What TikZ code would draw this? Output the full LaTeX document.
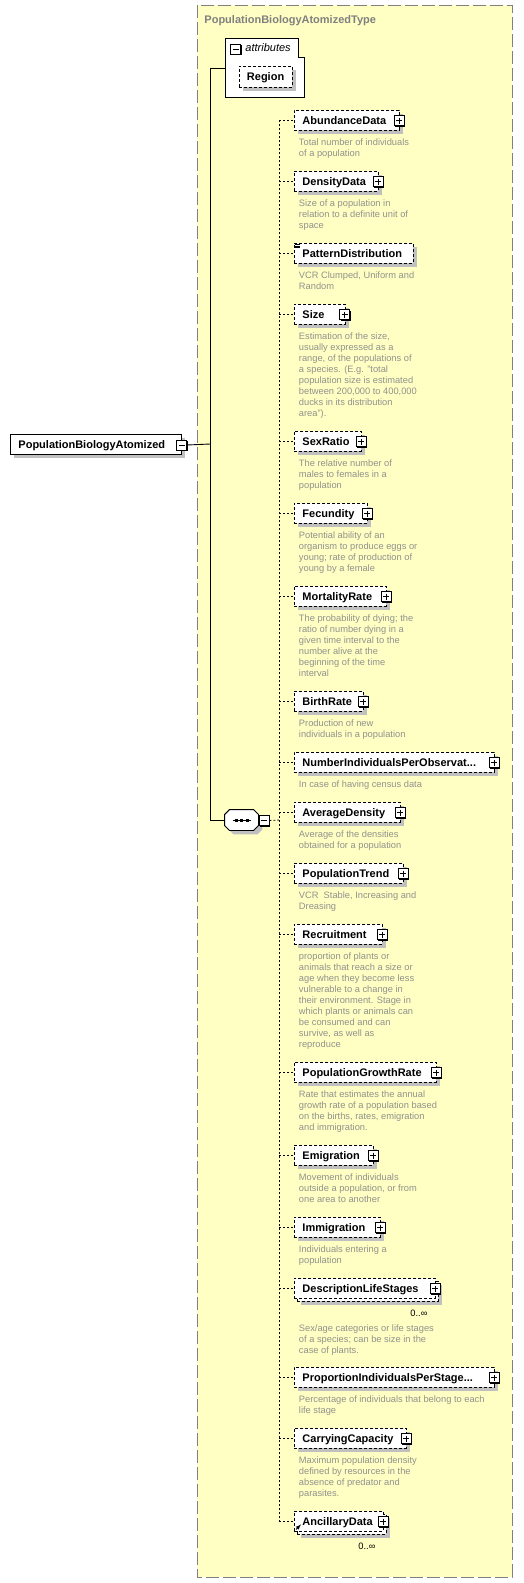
\documentclass[tikz,border=0pt]{standalone}
\usepackage{fontspec}
\setmainfont{Liberation Sans}
\usetikzlibrary{shadows}
\definecolor{typebg}{RGB}{255,255,196}
\definecolor{typeline}{RGB}{128,128,128}
\definecolor{doctext}{RGB}{145,145,140}
\definecolor{shadowgray}{RGB}{192,192,192}

\begin{document}
\begin{tikzpicture}[x=1pt, y=-1pt, line width=0.9pt,
  box/.style={draw, dash pattern=on 3pt off 2pt, fill=white, anchor=west, minimum height=20pt, inner xsep=8pt, inner ysep=0pt, text width=#1, align=left, text height=9pt, text depth=1pt, font=\fontsize{11}{13}\selectfont\bfseries},
  elem/.style={box=#1, drop shadow={shadow xshift=4pt, shadow yshift=-4pt, fill=shadowgray, opacity=1}},
  toggle/.style={draw, solid, fill=white, minimum size=10pt, inner sep=0pt, line width=0.8pt, drop shadow={shadow xshift=1.2pt, shadow yshift=-1.2pt, fill=black, opacity=1}},
  plusbox/.style={toggle, path picture={\draw[line width=0.8pt] ([xshift=2pt]path picture bounding box.west) -- ([xshift=-2pt]path picture bounding box.east) ([yshift=-2pt]path picture bounding box.north) -- ([yshift=2pt]path picture bounding box.south);}},
  minusbox/.style={toggle, path picture={\draw[line width=0.8pt] ([xshift=2pt]path picture bounding box.west) -- ([xshift=-2pt]path picture bounding box.east);}},
  doc/.style={anchor=north west, inner sep=0pt, align=left, text=doctext, font=\fontsize{9.3}{11}\selectfont},
  card/.style={anchor=base west, inner sep=0pt, font=\fontsize{9.3}{11}\selectfont},
  link/.style={dash pattern=on 2pt off 2pt}]
\useasboundingbox (0,0) rectangle (524,1583);

\draw[typeline, fill=typebg, dash pattern=on 13pt off 4pt] (197,5) rectangle (512,1577);
\node[anchor=base west, inner sep=0pt, text=typeline, font=\fontsize{11}{13}\selectfont\bfseries] (title) at (204,23) {PopulationBiologyAtomizedType};

% attributes
\node[minimum width=79pt, minimum height=59pt, inner sep=0pt, anchor=north west] (attr) at (225,38) {};
\draw[fill=white] (attr.north west) -- ++(73,0) -- ++(0,19) -- ++(6,0) |- (attr.south west) -- cycle;
\node[minusbox] (attrx) at (235.5,49) {};
\node[anchor=west, inner sep=0pt, font=\fontsize{11}{13}\selectfont\itshape] (attrlbl) at (245,48) {attributes};
\node[elem=38pt, inner xsep=7.5pt, minimum height=21pt] (region) at (239,76.5) {Region};

% element and sequence
\node[elem=155pt, solid] (pba) at (10,444) {PopulationBiologyAtomized};
\node[minusbox] (pbax) at (181.5,445) {};
\node[minimum width=33pt, minimum height=20pt, inner sep=0pt] (seq) at (241.5,820) {};
\fill[shadowgray, transform canvas={xshift=4pt, yshift=-4pt}] ([xshift=5pt]seq.north west) -- ([xshift=-5pt]seq.north east) -- ([yshift=-5pt]seq.north east) -- ([yshift=5pt]seq.south east) -- ([xshift=-5pt]seq.south east) -- ([xshift=5pt]seq.south west) -- ([yshift=5pt]seq.south west) -- ([yshift=-5pt]seq.north west) -- cycle;
\draw[fill=white] ([xshift=5pt]seq.north west) -- ([xshift=-5pt]seq.north east) -- ([yshift=-5pt]seq.north east) -- ([yshift=5pt]seq.south east) -- ([xshift=-5pt]seq.south east) -- ([xshift=5pt]seq.south west) -- ([yshift=5pt]seq.south west) -- ([yshift=-5pt]seq.north west) -- cycle;
\draw (seq.center) ++(-9,0) -- ++(18,0);
\fill ([shift={(-7,-1.5)}]seq.center) rectangle ++(3,3);
\fill ([shift={(-1.5,-1.5)}]seq.center) rectangle ++(3,3);
\fill ([shift={(4,-1.5)}]seq.center) rectangle ++(3,3);
\node[minusbox] (seqx) at (264,820.5) {};

\coordinate (trunk) at (210,444);
\coordinate (bus) at (279,820);
\draw (pbax.east) -- (trunk);
\draw (attr.west) -- (trunk |- attr.west) -- (trunk |- seq.west) -- (seq.west);

% children
\node[elem=89pt] (abund) at (294,120) {AbundanceData};
\node[plusbox] (abundx) at (399,120.5) {};
\node[doc] (abunddoc) at (298.5,137.5) {\rule{0pt}{8pt}Total number of individuals\\of a population};

\node[elem=68pt] (density) at (294,181) {DensityData};
\node[plusbox] (densityx) at (378,181.5) {};
\node[doc] (densitydoc) at (298.5,198.5) {\rule{0pt}{8pt}Size of a population in\\relation to a definite unit of\\space};

\node[elem=103pt] (pattern) at (294,253) {PatternDistribution};
\draw[line width=0.6pt] ([shift={(1,2)}]pattern.north west) -- ++(5,0) ++(-5,1.5) -- ++(5,0) ++(-5,1.5) -- ++(5,0);
\node[doc] (patterndoc) at (298.5,270.5) {\rule{0pt}{8pt}VCR Clumped, Uniform and\\Random};

\node[elem=35pt] (size) at (294,314) {Size};
\node[plusbox] (sizex) at (344.5,314.5) {};
\node[doc] (sizedoc) at (298.5,331.5) {\rule{0pt}{8pt}Estimation of the size,\\usually expressed as a\\range, of the populations of\\a species. (E.g. "total\\population size is estimated\\between 200,000 to 400,000\\ducks in its distribution\\area").};

\node[elem=51pt] (sexratio) at (294,441) {SexRatio};
\node[plusbox] (sexratiox) at (361,441.5) {};
\node[doc] (sexratiodoc) at (298.5,458.5) {\rule{0pt}{8pt}The relative number of\\males to females in a\\population};

\node[elem=57pt] (fecund) at (294,513) {Fecundity};
\node[plusbox] (fecundx) at (367,513.5) {};
\node[doc] (fecunddoc) at (298.5,530.5) {\rule{0pt}{8pt}Potential ability of an\\organism to produce eggs or\\young; rate of production of\\young by a female};

\node[elem=76pt] (mortal) at (294,596) {MortalityRate};
\node[plusbox] (mortalx) at (386,596.5) {};
\node[doc] (mortaldoc) at (298.5,613.5) {\rule{0pt}{8pt}The probability of dying; the\\ratio of number dying in a\\given time interval to the\\number alive at the\\beginning of the time\\interval};

\node[elem=53pt] (birth) at (294,701) {BirthRate};
\node[plusbox] (birthx) at (363,701.5) {};
\node[doc] (birthdoc) at (298.5,718.5) {\rule{0pt}{8pt}Production of new\\individuals in a population};

\node[elem=184pt] (numind) at (294,762) {NumberIndividualsPerObservat...};
\node[plusbox] (numindx) at (494,762.5) {};
\node[doc] (numinddoc) at (298.5,779.5) {\rule{0pt}{8pt}In case of having census data};

\node[elem=90pt] (avgdens) at (294,812) {AverageDensity};
\node[plusbox] (avgdensx) at (400,812.5) {};
\node[doc] (avgdensdoc) at (298.5,829.5) {\rule{0pt}{8pt}Average of the densities\\obtained for a population};

\node[elem=93pt] (poptrend) at (294,873) {PopulationTrend};
\node[plusbox] (poptrendx) at (403,873.5) {};
\node[doc] (poptrenddoc) at (298.5,890.5) {\rule{0pt}{8pt}VCR\ \ Stable, Increasing and\\Dreasing};

\node[elem=72pt] (recruit) at (294,934) {Recruitment};
\node[plusbox] (recruitx) at (382,934.5) {};
\node[doc] (recruitdoc) at (298.5,951.5) {\rule{0pt}{8pt}proportion of plants or\\animals that reach a size or\\age when they become less\\vulnerable to a change in\\their environment. Stage in\\which plants or animals can\\be consumed and can\\survive, as well as\\reproduce};

\node[elem=126pt] (popgrowth) at (294,1072) {PopulationGrowthRate};
\node[plusbox] (popgrowthx) at (436,1072.5) {};
\node[doc] (popgrowthdoc) at (298.5,1089.5) {\rule{0pt}{8pt}Rate that estimates the annual\\growth rate of a population based\\on the births, rates, emigration\\and immigration.};

\node[elem=63pt] (emig) at (294,1155) {Emigration};
\node[plusbox] (emigx) at (373,1155.5) {};
\node[doc] (emigdoc) at (298.5,1172.5) {\rule{0pt}{8pt}Movement of individuals\\outside a population, or from\\one area to another};

\node[elem=70pt] (immig) at (294,1227) {Immigration};
\node[plusbox] (immigx) at (380,1227.5) {};
\node[doc] (immigdoc) at (298.5,1244.5) {\rule{0pt}{8pt}Individuals entering a\\population};

\node[elem=125pt] (desclifeback) at (297,1291) {\phantom{D}};
\node[box=125pt] (desclife) at (294,1288) {DescriptionLifeStages};
\node[plusbox] (desclifex) at (435,1288.5) {};
\node[card] (desclifecard) at (410,1316) {0..∞};
\node[doc] (desclifedoc) at (298.5,1323.5) {\rule{0pt}{8pt}Sex/age categories or life stages\\of a species; can be size in the\\case of plants.};

\node[elem=184pt] (propind) at (294,1377) {ProportionIndividualsPerStage...};
\node[plusbox] (propindx) at (494,1377.5) {};
\node[doc] (propinddoc) at (298.5,1394.5) {\rule{0pt}{8pt}Percentage of individuals that belong to each\\life stage};

\node[elem=96pt] (carrycap) at (294,1438) {CarryingCapacity};
\node[plusbox] (carrycapx) at (406,1438.5) {};
\node[doc] (carrycapdoc) at (298.5,1455.5) {\rule{0pt}{8pt}Maximum population density\\defined by resources in the\\absence of predator and\\parasites.};

\node[elem=73pt] (ancilback) at (297,1524) {\phantom{A}};
\node[box=73pt] (ancil) at (294,1521) {AncillaryData};
\draw[-latex, line width=0.8pt] ([shift={(2,-2)}]ancil.south west) -- ++(5,-5);
\node[plusbox] (ancilx) at (383,1521.5) {};
\node[card] (ancilcard) at (358,1549) {0..∞};

% connectors
\draw[link] (seqx.east) -- (bus);
\draw[link] (bus |- abund) -- (bus |- ancil);
\draw[link] (bus |- abund) -- (abund.west);
\draw[link] (bus |- density) -- (density.west);
\draw[link] (bus |- pattern) -- (pattern.west);
\draw[link] (bus |- size) -- (size.west);
\draw[link] (bus |- sexratio) -- (sexratio.west);
\draw[link] (bus |- fecund) -- (fecund.west);
\draw[link] (bus |- mortal) -- (mortal.west);
\draw[link] (bus |- birth) -- (birth.west);
\draw[link] (bus |- numind) -- (numind.west);
\draw[link] (bus |- avgdens) -- (avgdens.west);
\draw[link] (bus |- poptrend) -- (poptrend.west);
\draw[link] (bus |- recruit) -- (recruit.west);
\draw[link] (bus |- popgrowth) -- (popgrowth.west);
\draw[link] (bus |- emig) -- (emig.west);
\draw[link] (bus |- immig) -- (immig.west);
\draw[link] (bus |- desclife) -- (desclife.west);
\draw[link] (bus |- propind) -- (propind.west);
\draw[link] (bus |- carrycap) -- (carrycap.west);
\draw[link] (bus |- ancil) -- (ancil.west);
\end{tikzpicture}
\end{document}
